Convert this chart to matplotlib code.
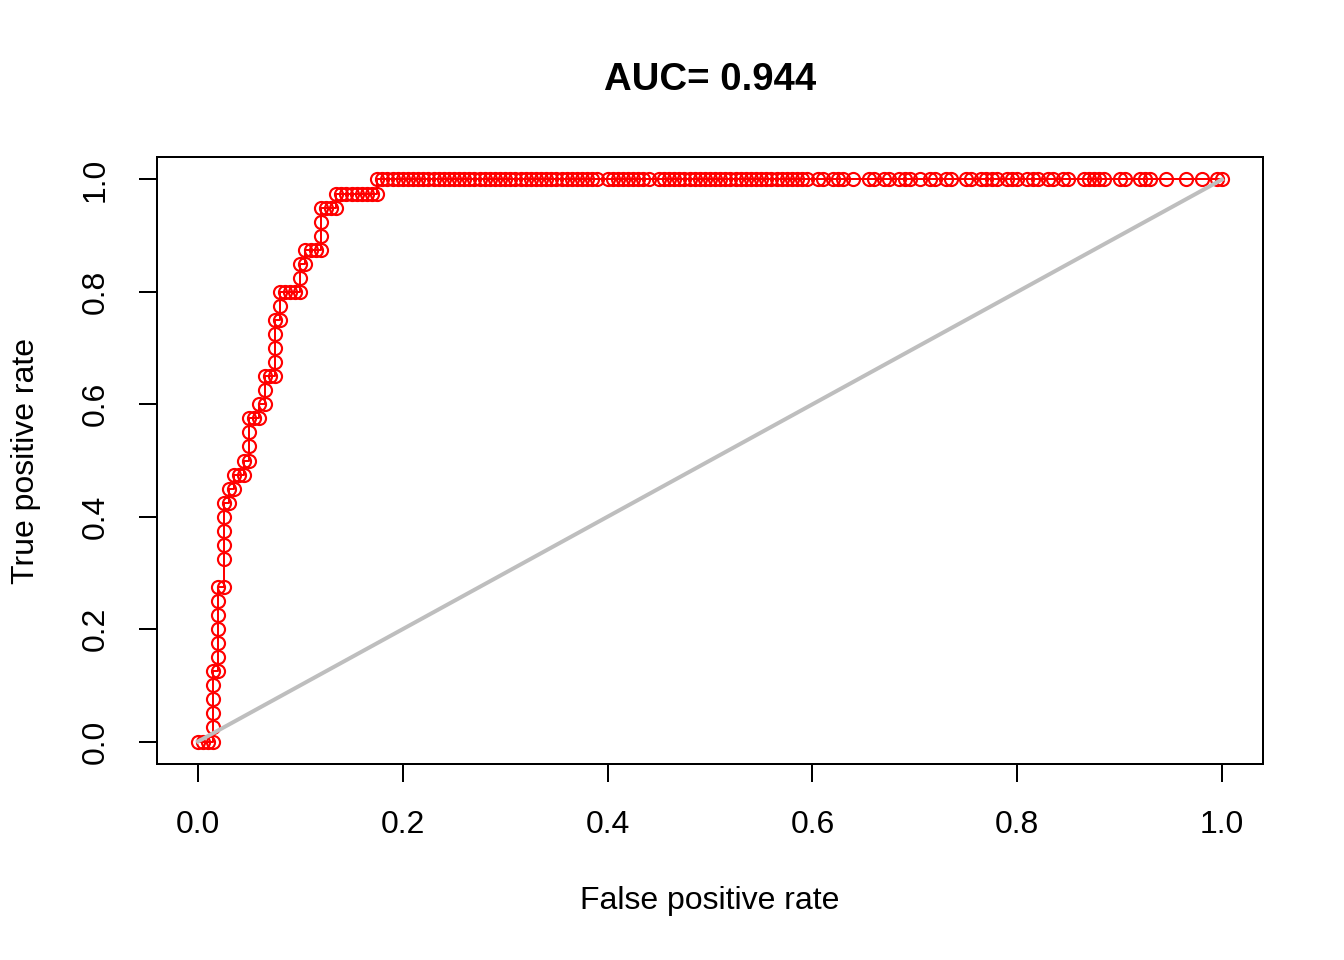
import matplotlib
matplotlib.use("Agg")
import matplotlib.pyplot as plt
import numpy as np

plt.rcParams['font.family'] = ['Liberation Sans', 'DejaVu Sans']

title = "AUC= 0.944"
x_label = "False positive rate"
y_label = "True positive rate"
tick_values = [0.0, 0.2, 0.4, 0.6, 0.8, 1.0]
tick_labels = ["0.0", "0.2", "0.4", "0.6", "0.8", "1.0"]

n_neg = 200
n_pos = 40

# ROC points as (false-positive count, true-positive count)
fp_rise = [0, 1, 2, 3, 3, 3, 3, 3, 3, 4, 4, 4, 4, 4, 4, 4, 5, 5, 5, 5, 5, 5,
           6, 6, 7, 7, 8, 9, 9, 10, 10, 10, 10, 11, 12, 12, 13, 13, 13,
           14, 15, 15, 15, 15, 15, 16, 16, 16, 17, 18, 19, 20, 20, 20,
           21, 21, 22, 23, 24, 24, 24, 24, 25, 26, 27, 27,
           28, 29, 30, 31, 32, 33, 34, 35]
tp_rise = [0, 0, 0, 0, 1, 2, 3, 4, 5, 5, 6, 7, 8, 9, 10, 11, 11, 13, 14, 15, 16, 17,
           17, 18, 18, 19, 19, 19, 20, 20, 21, 22, 23, 23, 23, 24, 24, 25, 26,
           26, 26, 27, 28, 29, 30, 30, 31, 32, 32, 32, 32, 32, 33, 34,
           34, 35, 35, 35, 35, 36, 37, 38, 38, 38, 38, 39,
           39, 39, 39, 39, 39, 39, 39, 39]
fp_top = [35, 36, 37, 38, 39, 40, 41, 42, 43, 44, 45, 46, 47, 48, 49, 50, 51, 52,
          53, 54, 55, 56, 57, 58, 59, 60, 61, 62, 63, 64, 65, 66, 67, 68, 69, 70,
          71, 72, 73, 74, 75, 76, 77, 78, 80, 81, 82, 83, 84, 85, 86, 87, 88,
          90, 91, 92, 93, 94, 95, 96, 97, 98, 99, 100, 101, 102, 103, 104, 105,
          106, 107, 108, 109, 110, 111, 112, 113, 114, 115, 116, 117, 118, 119,
          121, 122, 124, 125, 126, 128, 131, 132, 134, 135, 137, 138, 139, 141,
          143, 144, 146, 147, 150, 151, 153, 154, 155, 156, 158, 159, 160, 162,
          163, 164, 166, 167, 169, 170, 173, 174, 175, 176, 177, 180, 181, 184,
          185, 186, 189, 193, 196, 199, 200]
tp_top = [40] * len(fp_top)

fp_all = np.array(fp_rise + fp_top)
tp_all = np.array(tp_rise + tp_top)
fpr = fp_all / n_neg
tpr = tp_all / n_pos

diag_x = [0.0, 1.0]
diag_y = [0.0, 1.0]

fig = plt.figure(figsize=(7, 5), dpi=192)
ax = fig.add_axes([157/1344, 1-764/960, (1263-157)/1344, (764-157)/960])

ax.plot(fpr, tpr, color='#FF0000', lw=0.75, marker='o', markersize=4.9,
        markerfacecolor='none', markeredgecolor='#FF0000', markeredgewidth=0.8,
        zorder=3)
ax.plot(diag_x, diag_y, color='#BEBEBE', lw=1.5, zorder=4)

ax.set_xlim(-0.04, 1.04)
ax.set_ylim(-0.04, 1.04)
ax.set_xticks(tick_values)
ax.set_xticklabels(tick_labels)
ax.set_yticks(tick_values)
ax.set_yticklabels(tick_labels, rotation=90, va='center')
ax.tick_params(axis='both', direction='out', length=6.8, width=0.75,
               labelsize=12, pad=10.5, color='black')
for s in ax.spines.values():
    s.set_linewidth(0.75)
    s.set_color('black')

fig.text(710/1344, 1-80/960, title, ha='center', va='center',
         fontsize=14.4, fontweight='bold')
fig.text(710/1344, 1-901/960, x_label, ha='center', va='center', fontsize=12)
fig.text(26/1344, 1-460.5/960, y_label, ha='center', va='center',
         fontsize=12, rotation=90)

fig.savefig("out.png", dpi=192)
